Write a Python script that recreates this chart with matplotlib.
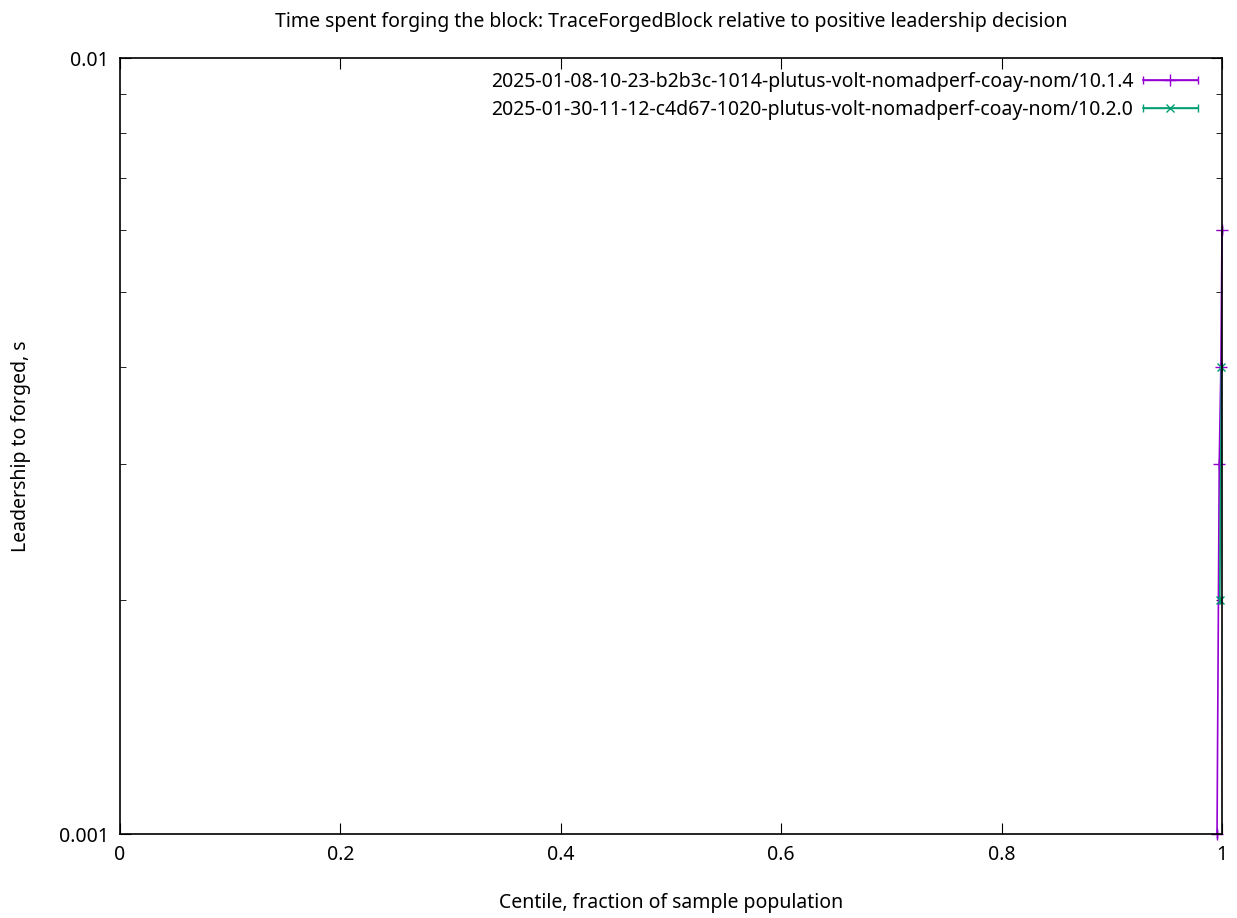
import matplotlib
matplotlib.use("Agg")
import matplotlib.pyplot as plt
from matplotlib.ticker import FixedLocator, NullFormatter, LogLocator
from matplotlib.container import ErrorbarContainer
from matplotlib.legend_handler import HandlerErrorbar

plt.rcParams['font.family'] = ['Noto Sans', 'DejaVu Sans']

title = "Time spent forging the block: TraceForgedBlock relative to positive leadership decision"
xlabel = "Centile, fraction of sample population"
ylabel = "Leadership to forged, s"

label_a = "2025-01-08-10-23-b2b3c-1014-plutus-volt-nomadperf-coay-nom/10.1.4"
centile_a = [0.9955, 0.9975, 0.999, 1.0]
value_a = [0.001, 0.003, 0.004, 0.006]
err_a = [0.0004, 0.0004, 0.0004, 0.0004]

label_b = "2025-01-30-11-12-c4d67-1020-plutus-volt-nomadperf-coay-nom/10.2.0"
centile_b = [0.998, 0.9995]
value_b = [0.002, 0.004]
err_b = [0.0004, 0.0004]

xticks = [0, 0.2, 0.4, 0.6, 0.8, 1.0]
xticklabels = ["0", "0.2", "0.4", "0.6", "0.8", "1"]
yticks = [0.001, 0.01]
yticklabels = ["0.001", "0.01"]

FS = 14

fig = plt.figure(figsize=(12.37, 9.18), dpi=100)
ax = fig.add_axes([120/1237, 1-834/918, (1222-120)/1237, (834-58)/918])

purple = "#9400d3"
green = "#009e73"

ea = ax.errorbar(centile_a, value_a, xerr=err_a, fmt='-+', color=purple, lw=1.2,
                 markersize=9, capsize=3, elinewidth=1.0, label=label_a, clip_on=False)
eb = ax.errorbar(centile_b, value_b, xerr=err_b, fmt='-x', color=green, lw=1.2,
                 markersize=6, capsize=3, elinewidth=1.0, label=label_b, clip_on=False)

ax.set_yscale('log')
ax.set_xlim(0, 1)
ax.set_ylim(0.001, 0.01)
ax.set_xticks(xticks)
ax.set_xticklabels(xticklabels)
ax.yaxis.set_major_locator(FixedLocator(yticks))
ax.set_yticklabels(yticklabels)
ax.yaxis.set_minor_locator(LogLocator(base=10, subs=range(2, 10)))
ax.yaxis.set_minor_formatter(NullFormatter())

ax.tick_params(axis='both', which='both', direction='in', top=True, right=True,
               labelsize=FS, colors='#000000', pad=8)
ax.tick_params(axis='both', which='major', length=8)
ax.tick_params(axis='both', which='minor', length=4)
for s in ax.spines.values():
    s.set_linewidth(1.2)

ax.set_title(title, fontsize=FS, pad=22)
ax.set_xlabel(xlabel, fontsize=FS, labelpad=20)
ax.set_ylabel(ylabel, fontsize=FS, labelpad=20)

hl = 2.83
leg = ax.legend(loc='upper right', bbox_to_anchor=((1198-120)/1102, (834-72)/776),
                frameon=False, markerfirst=False, fontsize=FS,
                handlelength=hl, borderaxespad=0, borderpad=0, labelspacing=0.4,
                handletextpad=0.5,
                handler_map={ErrorbarContainer: HandlerErrorbar(xerr_size=hl/2)})

fig.savefig("out.png", dpi=100)
